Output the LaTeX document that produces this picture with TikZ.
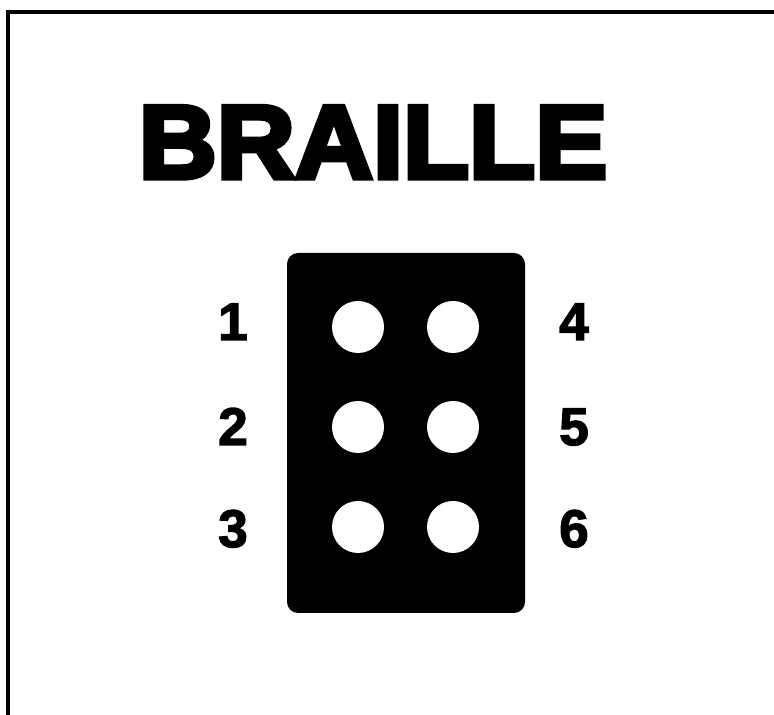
\documentclass[tikz,border=0pt]{standalone}
\usepackage{fontspec}
\setmainfont{Liberation Sans}
\newfontfamily\titlefont{Liberation Sans Bold}[FakeBold=5,FakeStretch=1.04]
\newfontfamily\numfont{Liberation Sans Bold}[FakeBold=2.5]
\begin{document}
\begin{tikzpicture}[x=1pt,y=1pt,
  frameline/.style={line width=4.5pt,line cap=rect},
  cell/.style={fill=black,rounded corners=11pt},
  dot/.style={circle,fill=white,minimum size=52pt,inner sep=0pt},
  num/.style={anchor=base,inner sep=0pt,font=\fontsize{53}{56}\numfont},
  title/.style={anchor=base,inner sep=0pt,font=\fontsize{104}{110}\titlefont}]
\useasboundingbox (0,0) rectangle (774,715);
\coordinate (tl) at (8,703);
\coordinate (bl) at (8,-5);
\coordinate (tr) at (780,703);
\draw[frameline] (bl) -- (tl) -- (tr);
\node[title] (t) at (373,537) {BRAILLE};
\fill[cell] (287,102) rectangle (525,462);
\node[dot] (d1) at (358,388) {};
\node[dot] (d2) at (358,288) {};
\node[dot] (d3) at (358,188) {};
\node[dot] (d4) at (453,388) {};
\node[dot] (d5) at (453,288) {};
\node[dot] (d6) at (453,188) {};
\node[num] (n1) at (233,375) {1};
\node[num] (n2) at (233,270) {2};
\node[num] (n3) at (233,168) {3};
\node[num] (n4) at (574,375) {4};
\node[num] (n5) at (574,270) {5};
\node[num] (n6) at (574,168) {6};
\end{tikzpicture}
\end{document}
